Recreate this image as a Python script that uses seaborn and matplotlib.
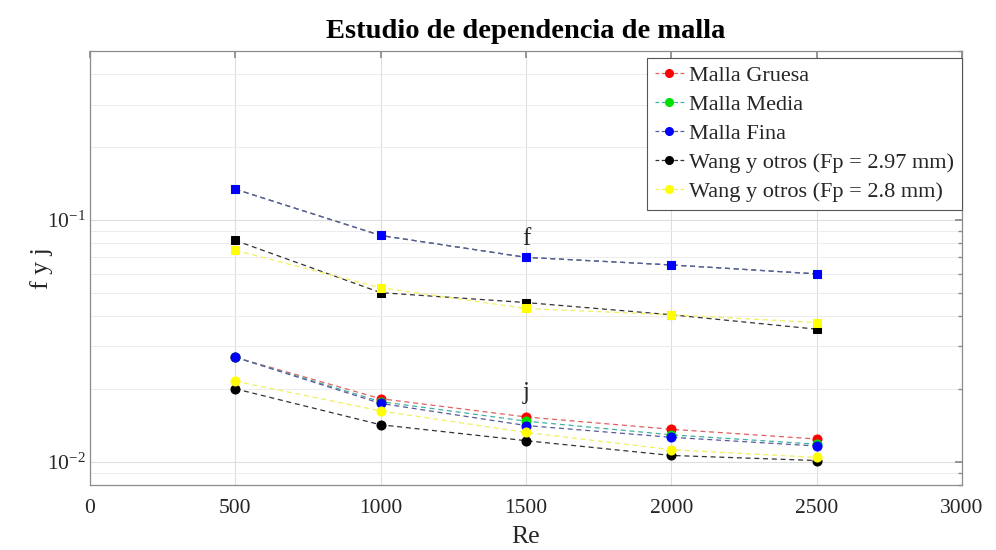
import numpy as np
import pandas as pd
import matplotlib
matplotlib.use("Agg")
import matplotlib.pyplot as plt
import seaborn as sns
from matplotlib.lines import Line2D
from matplotlib.ticker import LogLocator, LogFormatterMathtext, NullFormatter, MultipleLocator

re_vals = [500, 1000, 1500, 2000, 2500]

# friction factor f (square markers)
f_gruesa = [0.134, 0.0862, 0.0700, 0.0651, 0.0598]
f_media = [0.134, 0.0862, 0.0700, 0.0651, 0.0598]
f_fina = [0.134, 0.0862, 0.0700, 0.0651, 0.0598]
f_wang297 = [0.0822, 0.0500, 0.0455, 0.0405, 0.0353]
f_wang28 = [0.0748, 0.0524, 0.0430, 0.0405, 0.0376]

# Colburn factor j (circle markers)
j_gruesa = [0.0270, 0.0182, 0.0153, 0.0136, 0.0124]
j_media = [0.0270, 0.0177, 0.0147, 0.0129, 0.0118]
j_fina = [0.0270, 0.0174, 0.0141, 0.0126, 0.0116]
j_wang297 = [0.0200, 0.0142, 0.0122, 0.0106, 0.0101]
j_wang28 = [0.0215, 0.0162, 0.0132, 0.0112, 0.0104]

labels = ["Malla Gruesa", "Malla Media", "Malla Fina",
          "Wang y otros (Fp = 2.97 mm)", "Wang y otros (Fp = 2.8 mm)"]
colors = ["#ff0000", "#00e000", "#0000ff", "#000000", "#ffff00"]
line_colors = ["#e06060", "#40b0a0", "#5a5a9c", "#333333", "#f0f060"]
f_series = [f_gruesa, f_media, f_fina, f_wang297, f_wang28]
j_series = [j_gruesa, j_media, j_fina, j_wang297, j_wang28]

sns.set_theme(style="white")
plt.rcParams["font.family"] = ["Liberation Serif", "DejaVu Serif"]
plt.rcParams["mathtext.fontset"] = "custom"
plt.rcParams["mathtext.rm"] = "Liberation Serif"
plt.rcParams["mathtext.it"] = "Liberation Serif:italic"

fig = plt.figure(figsize=(9.96, 5.5), dpi=100)
ax = fig.add_axes([0.0904, 0.1182, 0.8755, 0.7891])

for i in range(5):
    df_f = pd.DataFrame({"Re": re_vals, "v": f_series[i]})
    df_j = pd.DataFrame({"Re": re_vals, "v": j_series[i]})
    sns.lineplot(data=df_f, x="Re", y="v", ax=ax, color=line_colors[i],
                 linestyle=(0, (4, 3)), linewidth=0.9, marker="s", markersize=5.5,
                 markerfacecolor=colors[i], markeredgecolor=colors[i],
                 legend=False, zorder=3 + i * 0.1)
    sns.lineplot(data=df_j, x="Re", y="v", ax=ax, color=line_colors[i],
                 linestyle=(0, (4, 3)), linewidth=0.9, marker="o", markersize=6.5,
                 markerfacecolor=colors[i], markeredgecolor=colors[i],
                 legend=False, zorder=3 + i * 0.1)

ax.set_yscale("log")
ax.set_xlim(0, 3000)
ax.set_ylim(0.008, 0.5)
ax.xaxis.set_major_locator(MultipleLocator(500))
ax.yaxis.set_major_locator(LogLocator(base=10, numticks=10))
ax.yaxis.set_major_formatter(LogFormatterMathtext())
ax.yaxis.set_minor_locator(LogLocator(base=10, subs=np.arange(2, 10), numticks=20))
ax.yaxis.set_minor_formatter(NullFormatter())

ax.grid(True, which="major", color="#dedede", linewidth=0.8)
ax.grid(True, which="minor", axis="y", color="#ececec", linewidth=0.7)
ax.set_axisbelow(True)

for sp in ax.spines.values():
    sp.set_color("#8c8c8c")
    sp.set_linewidth(0.9)
ax.tick_params(which="both", direction="in", top=True, right=True,
               color="#8c8c8c", labelcolor="#262626", labelsize=15.5)
ax.tick_params(which="major", length=5)
ax.tick_params(which="minor", length=3)
ax.tick_params(axis="x", pad=10)
ax.tick_params(axis="y", pad=3)

ax.set_xlabel("Re", fontsize=18.5, color="#262626", labelpad=6)
ax.set_ylabel("f y j", fontsize=18.5, color="#262626")
ax.yaxis.set_label_coords(-0.043, 0.5)
ax.set_title("Estudio de dependencia de malla", fontsize=20.5, fontweight="bold",
             color="#000000", pad=9)

ax.text(1500, 0.083, "f", fontsize=18, ha="center", va="center", color="#262626")
ax.text(1500, 0.0192, "j", fontsize=18, ha="center", va="center", color="#262626")

handles = [Line2D([0], [0], color=line_colors[i], linestyle=(0, (3, 2)), linewidth=0.9,
                  marker="o", markersize=5.5, markerfacecolor=colors[i],
                  markeredgecolor=colors[i]) for i in range(5)]
leg = ax.legend(handles, labels, loc="upper right", bbox_to_anchor=(1.0, 0.984),
                fontsize=16, frameon=True, fancybox=False, framealpha=1,
                edgecolor="#555555", handlelength=1.3, handletextpad=0.25,
                labelspacing=0.38, borderaxespad=0.0, borderpad=0.35)
leg.get_frame().set_linewidth(0.8)
for t in leg.get_texts():
    t.set_color("#262626")

fig.savefig("out.png", dpi=100)
